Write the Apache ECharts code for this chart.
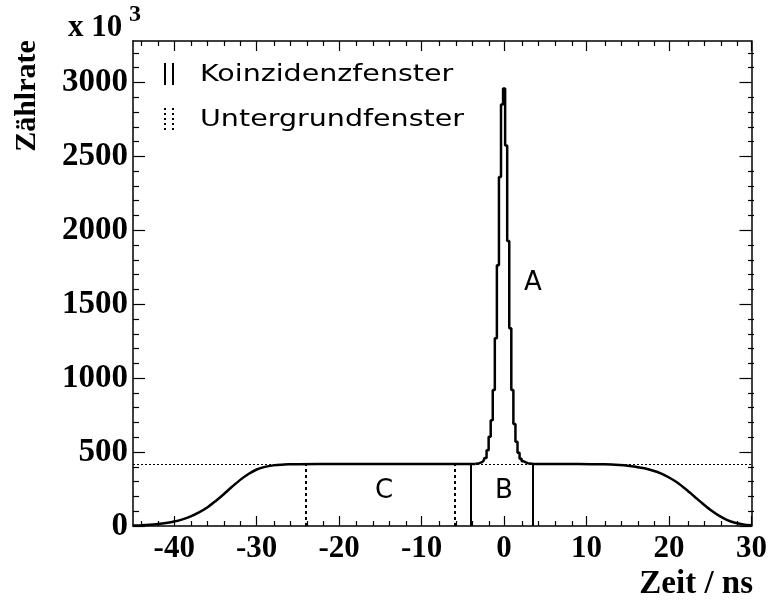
<!DOCTYPE html>
<html>
<head>
<meta charset="utf-8">
<title>Zählrate</title>
<script src="https://cdn.jsdelivr.net/npm/echarts@6/dist/echarts.min.js"></script>
<style>
  html, body { margin: 0; padding: 0; background: #fff; }
  #main { width: 770px; height: 601px; }
</style>
</head>
<body>
<div id="main"></div>
<script>
// background (accidental) coincidences, left flank  [ns, counts/1000]
const bgLeft = [
  [-45, 3], [-44, 5], [-43, 8], [-42, 13], [-41, 20], [-40, 30], [-39, 45], [-38, 65],
  [-37, 92], [-36, 125], [-35, 168], [-34, 215], [-33, 265], [-32, 312], [-31, 352],
  [-30, 382], [-29, 400], [-28, 410], [-27, 415], [-26, 417], [-25, 418], [-20, 419],
  [-15, 419], [-10, 420], [-5, 420], [-3.5, 420]
];
// prompt peak, 0.25 ns bins (bin centres)
const peak = [
  [-3.5, 420], [-3.25, 422], [-3, 425], [-2.75, 430], [-2.5, 440], [-2.25, 460],
  [-2, 513], [-1.75, 603], [-1.5, 716], [-1.25, 919], [-1, 1270], [-0.75, 1763],
  [-0.5, 2360], [-0.25, 2851], [0, 2958], [0.25, 2574], [0.5, 1928], [0.75, 1338],
  [1, 919], [1.25, 690], [1.5, 570], [1.75, 495], [2, 455], [2.25, 438], [2.5, 430],
  [2.75, 425], [3, 422], [3.25, 421], [3.5, 420]
];
// right flank
const bgRight = [
  [3.5, 420], [6, 420], [9, 419], [12, 417], [13, 416], [14, 413], [15, 408], [16, 400],
  [17, 390], [18, 375], [19, 356], [20, 328], [21, 294], [22, 250], [23, 203], [24, 155],
  [25, 110], [26, 72], [27, 42], [28, 22], [29, 11], [30, 5]
];

const coincWindow = [-4, 3.5];   // solid lines (B)
const bgWindow = [-24, -6];      // dotted lines (C)
const bgLevel = 420;             // dotted horizontal level

const xMajor = [-40, -30, -20, -10, 0, 10, 20, 30];
const xMinor = [-44, -42, -38, -36, -34, -32, -28, -26, -24, -22, -18, -16, -14, -12,
  -8, -6, -4, -2, 2, 4, 6, 8, 12, 14, 16, 18, 22, 24, 26, 28];
const yMajor = [0, 500, 1000, 1500, 2000, 2500, 3000];
const yMinor = [100, 200, 300, 400, 600, 700, 800, 900, 1100, 1200, 1300, 1400, 1600,
  1700, 1800, 1900, 2100, 2200, 2300, 2400, 2600, 2700, 2800, 2900, 3100, 3200];

const X_MIN = -45, X_MAX = 30, Y_MIN = 0, Y_MAX = 3280;

const serif = '"Liberation Serif", "Times New Roman", serif';
const sans = '"DejaVu Sans", sans-serif';
const black = '#000';

const gridBox = { left: 133, right: 16, top: 41, bottom: 75 };

function plain(v) { return String(v); }

function xAx(gridIndex, pos, ticks, len, labels) {
  return {
    type: 'value', gridIndex: gridIndex, position: pos, min: X_MIN, max: X_MAX,
    axisLine: { show: gridIndex === 0, onZero: false, lineStyle: { color: black, width: 1.5 } },
    axisTick: { show: true, inside: true, length: len, customValues: ticks, lineStyle: { color: black, width: 1.2 } },
    axisLabel: {
      show: labels, customValues: ticks, margin: 7, color: black, formatter: plain,
      fontFamily: serif, fontWeight: 'bold', fontSize: 31
    },
    splitLine: { show: false }
  };
}
function yAx(gridIndex, pos, ticks, len, labels) {
  return {
    type: 'value', gridIndex: gridIndex, position: pos, min: Y_MIN, max: Y_MAX,
    axisLine: { show: gridIndex === 0, onZero: false, lineStyle: { color: black, width: 1.5 } },
    axisTick: { show: true, inside: true, length: len, customValues: ticks, lineStyle: { color: black, width: 1.2 } },
    axisLabel: {
      show: labels, customValues: ticks, margin: 5, color: black, formatter: plain,
      fontFamily: serif, fontWeight: 'bold', fontSize: 33
    },
    splitLine: { show: false }
  };
}

const chart = echarts.init(document.getElementById('main'), null, { renderer: 'canvas' });

const curveStyle = { color: black, width: 2.5 };

chart.setOption({
  animation: false,
  backgroundColor: '#fff',
  grid: [
    Object.assign({}, gridBox),
    Object.assign({}, gridBox)
  ],
  xAxis: [
    xAx(0, 'bottom', xMajor, 10, true),
    xAx(0, 'top', xMajor, 10, false),
    xAx(1, 'bottom', xMinor, 5, false),
    xAx(1, 'top', xMinor, 5, false)
  ],
  yAxis: [
    yAx(0, 'left', yMajor, 12, true),
    yAx(0, 'right', yMajor, 12, false),
    yAx(1, 'left', yMinor, 6, false),
    yAx(1, 'right', yMinor, 6, false)
  ],
  series: [
    {
      type: 'line', xAxisIndex: 0, yAxisIndex: 0, data: bgLeft,
      smooth: 0.3, symbol: 'none', lineStyle: curveStyle, z: 5,
      markLine: {
        silent: true, symbol: ['none', 'none'], label: { show: false }, animation: false,
        data: [
          { yAxis: bgLevel, lineStyle: { color: black, type: [2, 2], width: 1 } }
        ].concat(
          bgWindow.map(function (x) {
            return [
              { coord: [x, 0], lineStyle: { color: black, type: [3, 3], width: 2 } },
              { coord: [x, bgLevel] }
            ];
          }),
          coincWindow.map(function (x) {
            return [
              { coord: [x, 0], lineStyle: { color: black, type: 'solid', width: 2 } },
              { coord: [x, bgLevel] }
            ];
          })
        )
      }
    },
    {
      type: 'line', xAxisIndex: 0, yAxisIndex: 0, data: peak,
      step: 'middle', symbol: 'none', lineStyle: curveStyle, z: 5
    },
    {
      type: 'line', xAxisIndex: 0, yAxisIndex: 0, data: bgRight,
      smooth: 0.3, symbol: 'none', lineStyle: curveStyle, z: 5
    }
  ],
  graphic: [
    // legend
    { type: 'line', shape: { x1: 165, y1: 63, x2: 165, y2: 85 }, style: { stroke: black, lineWidth: 2 } },
    { type: 'line', shape: { x1: 173, y1: 63, x2: 173, y2: 85 }, style: { stroke: black, lineWidth: 2 } },
    { type: 'text', x: 200, y: 75, scaleX: 1.24, style: { text: 'Koinzidenzfenster', font: '23px ' + sans, fill: black, verticalAlign: 'middle' } },
    { type: 'line', shape: { x1: 165, y1: 108, x2: 165, y2: 131 }, style: { stroke: black, lineWidth: 2, lineDash: [2, 3] } },
    { type: 'line', shape: { x1: 173, y1: 108, x2: 173, y2: 131 }, style: { stroke: black, lineWidth: 2, lineDash: [2, 3] } },
    { type: 'text', x: 200, y: 120, scaleX: 1.24, style: { text: 'Untergrundfenster', font: '23px ' + sans, fill: black, verticalAlign: 'middle' } },
    // region labels
    { type: 'text', x: 533, y: 283, style: { text: 'A', font: '26px ' + sans, fill: black, align: 'center', verticalAlign: 'middle' } },
    { type: 'text', x: 504, y: 491, style: { text: 'B', font: '26px ' + sans, fill: black, align: 'center', verticalAlign: 'middle' } },
    { type: 'text', x: 384, y: 491, style: { text: 'C', font: '26px ' + sans, fill: black, align: 'center', verticalAlign: 'middle' } },
    // axis titles
    {
      type: 'text', x: 27, y: 96, rotation: Math.PI / 2,
      style: { text: 'Zählrate', font: 'bold 30px ' + serif, fill: black, align: 'center', verticalAlign: 'middle' }
    },
    { type: 'text', x: 68, y: 28, style: { text: 'x 10', font: 'bold 31px ' + serif, fill: black, verticalAlign: 'middle' } },
    { type: 'text', x: 129, y: 15, style: { text: '3', font: 'bold 24px ' + serif, fill: black, verticalAlign: 'middle' } },
    { type: 'text', x: 753, y: 584, style: { text: 'Zeit / ns', font: 'bold 33px ' + serif, fill: black, align: 'right', verticalAlign: 'middle' } }
  ]
});
</script>
</body>
</html>
